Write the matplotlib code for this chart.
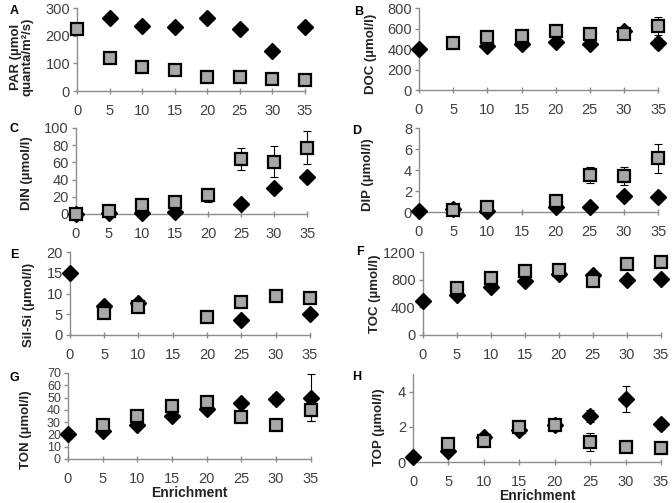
import numpy as np
import matplotlib
matplotlib.use("Agg")
from matplotlib import pyplot as plt

plt.rcParams['font.family'] = ['Liberation Sans', 'DejaVu Sans']

nan = np.nan
enrich = [0, 5, 10, 15, 20, 25, 30, 35]

# diamonds (black) and squares (grey) per panel
par_d = [nan, 265, 235, 232, 265, 225, 145, 230]
par_s = [225, 120, 87, 75, 50, 52, 43, 40]

doc_d = [400, nan, 427, 450, 467, 450, 575, 460]
doc_s = [nan, 460, 520, 527, 577, 543, 543, 625]
doc_de = [0, 0, 0, 0, 0, 0, 0, 50]
doc_se = [0, 0, 0, 0, 0, 0, 0, 90]

din_d = [0, 1, 1, 2, nan, 11.5, 30, 43]
din_s = [0, 4, 10, 13.5, 22, 64, 61, 77]
din_se = [0, 0, 0, 0, 8, 13, 18, 19]

dip_d = [0.05, 0.3, 0.1, nan, 0.45, 0.45, 1.55, 1.4]
dip_s = [nan, 0.2, 0.5, nan, 1.08, 3.55, 3.4, 5.1]
dip_se = [0, 0, 0, 0, 0, 0.75, 0.85, 1.4]

si_d = [15, 7, 7.7, nan, nan, 3.6, nan, 5]
si_s = [nan, 5.4, 6.85, nan, 4.35, 7.9, 9.4, 8.9]

toc_d = [494, 576, 696, 778, 888, 874, 802, 816]
toc_s = [nan, 682, 826, 922, 936, 782, 1032, 1056]

ton_d = [20, 22.5, 28, 35, 40.7, 45.6, 49, 50]
ton_s = [nan, 28, 34.7, 43.4, 46.7, 34, 28, 39.6]
ton_de = [0, 0, 0, 0, 0, 0, 4, 19]
ton_se = [0, 0, 0, 0, 0, 0, 0, 9]

top_d = [0.28, 0.6, 1.4, 1.8, 2.1, 2.6, 3.58, 2.17]
top_s = [nan, 1.0, 1.19, 1.98, 2.08, 1.13, 0.85, 0.79]
top_de = [0, 0, 0, 0, 0, 0.35, 0.72, 0.3]
top_se = [0, 0, 0, 0, 0.3, 0.5, 0, 0]

zero = [0] * 8

panels = [
    # letter, label, diamonds, squares, d err, s err, ylim, ystep, rect, label xy, letter pos
    ("A", "PAR (µmol\nquanta/m²/s)", par_d, par_s, zero, zero, 300, 100,
     [0.1146, 0.819, 0.339, 0.165], (-0.19, 0.41), (10, 11)),
    ("B", "DOC (µmol/l)", doc_d, doc_s, doc_de, doc_se, 800, 200,
     [0.6235, 0.821, 0.356, 0.163], (-0.175, 0.44), (354, 12)),
    ("C", "DIN (µmol/l)", din_d, din_s, zero, din_se, 100, 20,
     [0.113, 0.5746, 0.344, 0.171], (-0.186, 0.48), (10, 129)),
    ("D", "DIP (µmol/l)", dip_d, dip_s, zero, dip_se, 8, 2,
     [0.6235, 0.5785, 0.356, 0.167], (-0.19, 0.45), (352, 131)),
    ("E", "Sil-Si (µmol/l)", si_d, si_s, zero, zero, 20, 5,
     [0.104, 0.334, 0.357, 0.165], (-0.146, 0.36), (10, 255)),
    ("F", "TOC (µmol/l)", toc_d, toc_s, zero, zero, 1200, 400,
     [0.629, 0.334, 0.354, 0.165], (-0.176, 0.5), (356, 252)),
    ("G", "TON (µmol/l)", ton_d, ton_s, ton_de, ton_se, 70, 10,
     [0.101, 0.0875, 0.3616, 0.171], (-0.148, 0.34), (10, 378)),
    ("H", "TOP (µmol/l)", top_d, top_s, top_de, top_se, 5, 2,
     [0.6146, 0.0815, 0.369, 0.175], (-0.113, 0.39), (352, 377)),
]

fig = plt.figure(figsize=(6.72, 5.03), dpi=100)
W, H = 672, 503
axc = '#8c8c8c'
txc = '#404040'


def errbars(ax, x, y, e, z):
    m = e > 0
    if not m.any():
        return
    c = ax.errorbar(np.array(x)[m], y[m], yerr=e[m], fmt='none', ecolor='black',
                    elinewidth=0.8, capsize=3, capthick=0.8, zorder=z)
    for art in list(c.lines[1]) + list(c.lines[2]):
        art.set_clip_on(False)


for letter, lab, yd, ys, ed, es, ymax, ystep, rect, lxy, lpos in panels:
    ax = fig.add_axes(rect)
    yd = np.array(yd, float)
    ys = np.array(ys, float)
    errbars(ax, enrich, yd, np.array(ed, float), 2)
    ax.plot(enrich, yd, 'D', color='black', ms=8.5, clip_on=False, zorder=3)
    errbars(ax, enrich, ys, np.array(es, float), 4)
    ax.plot(enrich, ys, 's', mfc='#a8a8a8', mec='black', mew=1.6, ms=9,
            clip_on=False, zorder=5)

    ax.set_xlim(0, 35)
    ax.set_ylim(0, ymax)
    ax.set_xticks(enrich)
    ax.set_yticks(np.arange(0, ymax + 0.01, ystep))
    for s in ['top', 'right']:
        ax.spines[s].set_visible(False)
    for s in ['left', 'bottom']:
        ax.spines[s].set_color(axc)
        ax.spines[s].set_linewidth(1.0)
    ax.tick_params(axis='both', colors=axc, labelcolor=txc, labelsize=10.5,
                   length=3, width=1.0)
    ax.tick_params(axis='x', direction='inout', length=5, pad=7)
    ax.tick_params(axis='y', pad=2)
    if letter == "G":
        # dense ticks: slightly smaller labels so they do not collide
        ax.tick_params(axis='y', labelsize=9)
    ax.set_ylabel(lab, fontsize=9.5, fontweight='bold', color='#222222',
                  linespacing=0.95)
    ax.yaxis.set_label_coords(*lxy)
    if letter in ("G", "H"):
        ax.set_xlabel("Enrichment", fontsize=10, fontweight='bold',
                      color='#222222', labelpad=0)
    fig.text(lpos[0] / W, 1 - lpos[1] / H, letter, fontsize=9,
             fontweight='bold', ha='left', va='center')

fig.savefig("out.png", dpi=100)
